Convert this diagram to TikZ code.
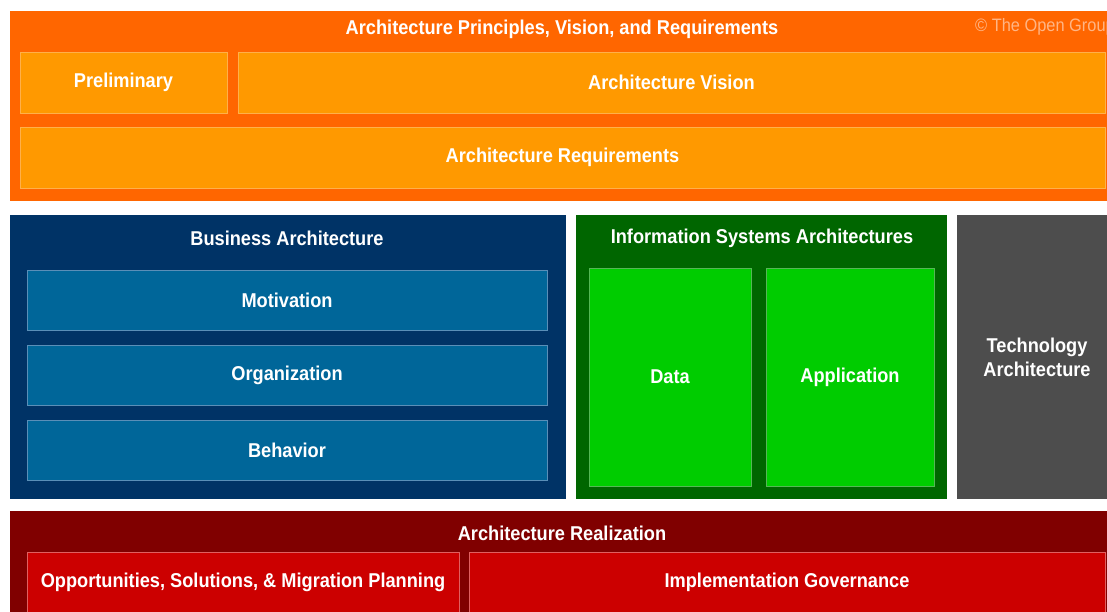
\documentclass[tikz,border=0pt]{standalone}
\usepackage{fontspec}
\setmainfont{Liberation Sans}[FakeStretch=0.91]
\definecolor{orangeD}{HTML}{FF6600}
\definecolor{orangeL}{HTML}{FF9900}
\definecolor{orangeE}{HTML}{FFB04A}
\definecolor{blueD}{HTML}{003366}
\definecolor{blueL}{HTML}{006699}
\definecolor{blueE}{HTML}{5A8FB8}
\definecolor{greenD}{HTML}{006600}
\definecolor{greenL}{HTML}{00CC00}
\definecolor{greenE}{HTML}{55B855}
\definecolor{grayD}{HTML}{4D4D4D}
\definecolor{redD}{HTML}{800000}
\definecolor{redL}{HTML}{CC0000}
\definecolor{redE}{HTML}{E06060}
\definecolor{copy}{HTML}{FFB585}
\tikzset{
  panel/.style={draw=none, inner sep=0pt, outer sep=0pt},
  inbox/.style={draw, line width=0.8pt, inner sep=0pt, outer sep=0pt, text=white,
     font=\fontsize{20}{23}\selectfont\bfseries, align=center},
  ttl/.style={text=white, font=\fontsize{20}{24}\selectfont\bfseries, inner sep=0pt, align=center},
}
\begin{document}
\begin{tikzpicture}[x=1pt,y=-1pt]
\useasboundingbox (0,0) rectangle (1107,611);
\fill[white] (0,0) rectangle (1107,611);
% top block
\node[panel, fill=orangeD, minimum width=1100pt, minimum height=190pt] (top) at (560,106) {};
\node[ttl] (toptitle) at (562,29) {Architecture Principles, Vision, and Requirements};
\node[anchor=west, inner sep=0pt, text=copy, font=\fontsize{18}{20}\selectfont] (copyr) at (975,27) {© The Open Group};
\node[inbox, fill=orangeL, draw=orangeE, minimum width=207pt, minimum height=61pt] (prelim) at (123.5,82.5) {Preliminary};
\node[inbox, fill=orangeL, draw=orangeE, minimum width=867pt, minimum height=61pt] (vision) at (671.5,82.5) {Architecture Vision};
\node[inbox, fill=orangeL, draw=orangeE, minimum width=1085pt, minimum height=61pt] (req) at (562.5,157.5) {Architecture Requirements};
% business
\node[panel, fill=blueD, minimum width=556pt, minimum height=284pt] (bus) at (288,357) {};
\node[ttl] (bustitle) at (287,238) {Business Architecture};
\node[inbox, fill=blueL, draw=blueE, minimum width=520pt, minimum height=60pt] (mot) at (287,300) {Motivation};
\node[inbox, fill=blueL, draw=blueE, minimum width=520pt, minimum height=60pt] (org) at (287,375) {Organization};
\node[inbox, fill=blueL, draw=blueE, minimum width=520pt, minimum height=60pt] (beh) at (287,450) {Behavior};
% information systems
\node[panel, fill=greenD, minimum width=371pt, minimum height=284pt] (isa) at (761.5,357) {};
\node[ttl] (isatitle) at (762,238) {Information Systems Architectures};
\node[inbox, fill=greenL, draw=greenE, minimum width=162pt, minimum height=218pt] (data) at (670,377) {Data};
\node[inbox, fill=greenL, draw=greenE, minimum width=168pt, minimum height=218pt] (app) at (850,377) {Application};
% technology
\node[panel, fill=grayD, minimum width=153pt, minimum height=284pt] (tech) at (1033.5,357) {};
\node[ttl] (techtitle) at (1037,357) {Technology\\Architecture};
% realization
\node[panel, fill=redD, minimum width=1100pt, minimum height=110pt] (real) at (560,566) {};
\node[ttl] (realtitle) at (562,533) {Architecture Realization};
\node[inbox, fill=redL, draw=redE, minimum width=432pt, minimum height=60pt] (opp) at (243,582) {Opportunities, Solutions, \& Migration Planning};
\node[inbox, fill=redL, draw=redE, minimum width=636pt, minimum height=60pt] (impl) at (787,582) {Implementation Governance};
\end{tikzpicture}
\end{document}
